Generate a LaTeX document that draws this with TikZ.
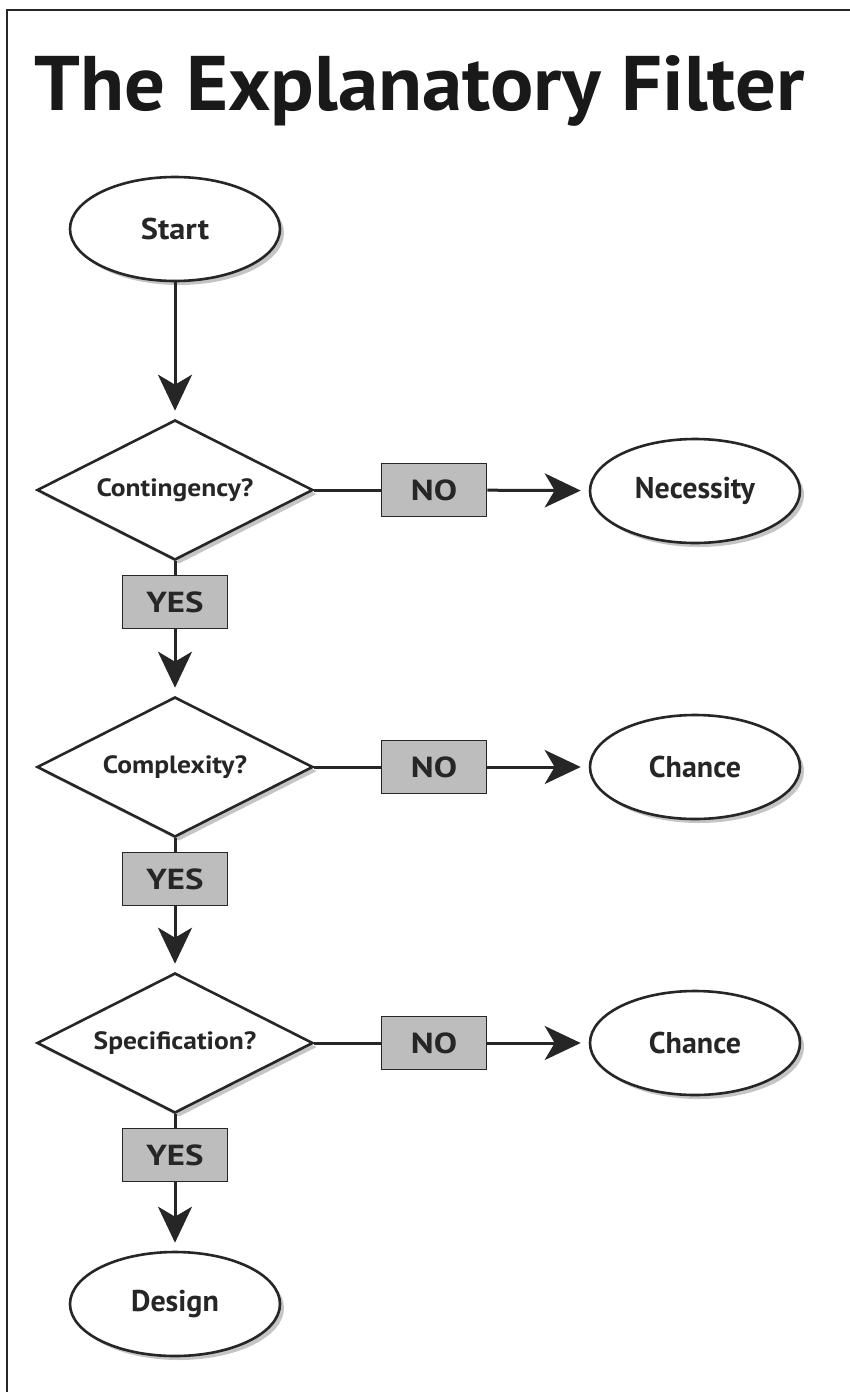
\documentclass[tikz,border=0pt]{standalone}
\usepackage{fontspec}
\setmainfont{PT Sans}
\usetikzlibrary{shapes.geometric,arrows.meta,shadows}
\definecolor{ink}{HTML}{262626}
\definecolor{boxgray}{HTML}{BDBDBD}
\newcommand{\widelbl}[2]{\scalebox{#1}[1]{#2}}
\begin{document}
\begin{tikzpicture}[x=1pt,y=-1pt,
  softshadow/.style={drop shadow={shadow xshift=4pt,shadow yshift=-4pt,fill=black!45,opacity=0.5}},
  term/.style={ellipse, draw=ink, line width=2.6pt, fill=white, minimum width=210pt, minimum height=104pt, inner sep=0pt, text=ink, font=\fontsize{30}{30}\selectfont\bfseries, softshadow},
  decision/.style={diamond, aspect=2, draw=ink, line width=2.6pt, fill=white, minimum width=276pt, minimum height=140pt, inner sep=0pt, text=ink, font=\fontsize{25}{25}\selectfont\bfseries, softshadow},
  answer/.style={rectangle, draw=ink, line width=1.6pt, fill=boxgray, minimum width=105pt, minimum height=53pt, inner sep=0pt, text=ink, font=\fontsize{29}{29}\selectfont\bfseries},
  flow/.style={draw=ink, line width=3pt},
  arrowflow/.style={flow, -{Stealth[length=36pt,width=34pt,inset=10pt]}, shorten >=8pt}
]
\useasboundingbox (0,0) rectangle (850,1392);
\fill[white] (0,0) rectangle (850,1392);
\draw[ink, line width=2.5pt] (7,1392) -- (7,10) -- (850,10);

\node[text=black!90, anchor=base, inner sep=0pt] (title) at (420,110) {\resizebox{770pt}{55pt}{\bfseries The Explanatory Filter}};

\node[term] (start) at (175,229) {\widelbl{1.08}{Start}};
\node[decision] (d1) at (175,490) {\widelbl{1.1}{Contingency?}};
\node[answer] (no1) at (434,490) {\widelbl{1.2}{NO}};
\node[term] (necessity) at (695,491) {Necessity};
\node[answer] (yes1) at (175,602) {\widelbl{1.2}{YES}};
\node[decision] (d2) at (175,767) {\widelbl{1.1}{Complexity?}};
\node[answer] (no2) at (434,767) {\widelbl{1.2}{NO}};
\node[term] (chance1) at (695,767) {Chance};
\node[answer] (yes2) at (175,879) {\widelbl{1.2}{YES}};
\node[decision] (d3) at (175,1043) {\widelbl{1.1}{Specification?}};
\node[answer] (no3) at (434,1043) {\widelbl{1.2}{NO}};
\node[term] (chance2) at (695,1043) {Chance};
\node[answer] (yes3) at (175,1155) {\widelbl{1.2}{YES}};
\node[term] (design) at (175,1304) {Design};

\draw[arrowflow] (start) -- (d1);
\draw[flow] (d1) -- (no1);
\draw[arrowflow] (no1) -- (necessity);
\draw[flow] (d1) -- (yes1);
\draw[arrowflow] (yes1) -- (d2);
\draw[flow] (d2) -- (no2);
\draw[arrowflow] (no2) -- (chance1);
\draw[flow] (d2) -- (yes2);
\draw[arrowflow] (yes2) -- (d3);
\draw[flow] (d3) -- (no3);
\draw[arrowflow] (no3) -- (chance2);
\draw[flow] (d3) -- (yes3);
\draw[arrowflow] (yes3) -- (design);
\end{tikzpicture}
\end{document}
